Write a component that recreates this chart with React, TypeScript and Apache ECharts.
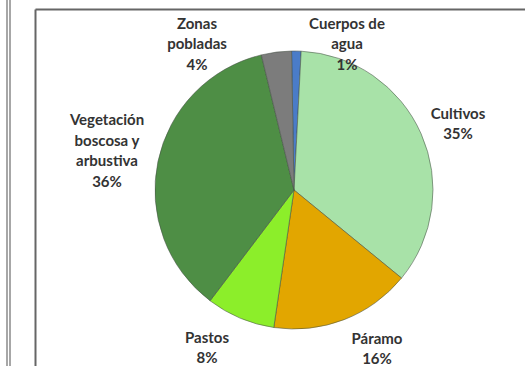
import React, { useEffect, useRef } from "react";
import * as echarts from "echarts";

const categories = ["Cuerpos de agua", "Cultivos", "Páramo", "Pastos", "Vegetación boscosa y arbustiva", "Zonas pobladas"];
const labelNames = ["Cuerpos de\nagua", "Cultivos", "Páramo", "Pastos", "Vegetación\nboscosa y\narbustiva", "Zonas\npobladas"];
const shares = [1.1, 35.1, 16.4, 8.0, 35.9, 3.5];
const colors = ["#4a7cc8", "#a8e2a8", "#e2a600", "#8cee2a", "#4e8e45", "#7c7c7c"];
const labelPos: [number, number][] = [[347, 43], [458, 123], [377, 348], [207, 347], [107, 150], [197, 43]];

export default function App() {
  const ref = useRef<HTMLDivElement>(null);
  useEffect(() => {
    if (!ref.current) return;
    const chart = echarts.init(ref.current, undefined, { renderer: "svg" });
    chart.setOption({
      animation: false,
      backgroundColor: "#ffffff",
      graphic: [
        { type: "line", shape: { x1: 7, y1: 0, x2: 7, y2: 366 }, style: { stroke: "#8a8a8a", lineWidth: 1.5 } },
        { type: "line", shape: { x1: 10, y1: 0, x2: 10, y2: 366 }, style: { stroke: "#8a8a8a", lineWidth: 1.5 } },
        { type: "line", shape: { x1: 35.5, y1: 9.5, x2: 35.5, y2: 366 }, style: { stroke: "#666", lineWidth: 2 } },
        { type: "line", shape: { x1: 35.5, y1: 9.5, x2: 525, y2: 9.5 }, style: { stroke: "#666", lineWidth: 2 } },
      ],
      series: [
        {
          type: "pie",
          center: [294, 190],
          radius: 139,
          startAngle: 91,
          clockwise: true,
          avoidLabelOverlap: false,
          percentPrecision: 0,
          itemStyle: { borderColor: "rgba(70,80,70,0.55)", borderWidth: 1 },
          label: {
            show: true,
            position: "outside",
            formatter: (p: any) => `${labelNames[p.dataIndex]}\n${p.percent}%`,
            fontFamily: "Lato",
            fontWeight: "bold",
            fontSize: 15,
            lineHeight: 20.5,
            color: "#333",
            align: "center",
          },
          labelLine: { show: false },
          labelLayout: (params: any) => {
            const pos = labelPos[params.dataIndex];
            return { x: pos[0], y: pos[1], align: "center", verticalAlign: "middle" };
          },
          data: categories.map((name, i) => ({ name, value: shares[i], itemStyle: { color: colors[i] } })),
        },
      ],
    });
    return () => chart.dispose();
  }, []);
  return <div ref={ref} style={{ position: "fixed", left: 0, top: 0, width: 525, height: 366 }} />;
}
